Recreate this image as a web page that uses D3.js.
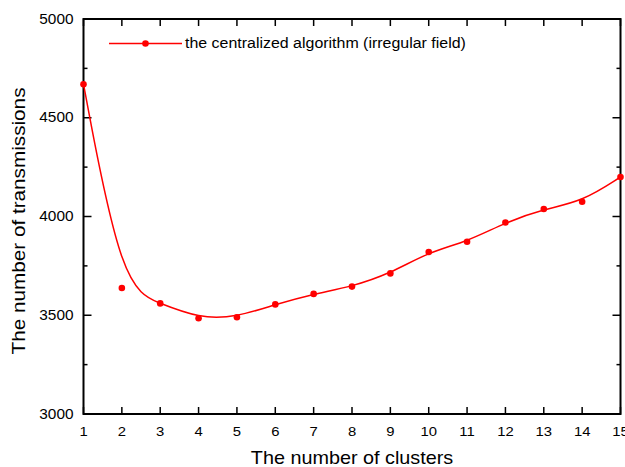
<!DOCTYPE html>
<html><head><meta charset="utf-8">
<script src="https://cdn.jsdelivr.net/npm/d3@7"></script>
<style>body{margin:0;background:#fff}svg{display:block}text{font-family:"Liberation Sans",Arial,sans-serif}</style>
</head><body>
<svg id="c" width="625" height="467"></svg>
<script>
const clusters = [1,2,3,4,5,6,7,8,9,10,11,12,13,14,15];
const transmissions = [4670,3638,3560,3485,3490,3555,3608,3645,3712,3820,3872,3970,4038,4075,4200];
const yTicks = [3000,3500,4000,4500,5000];
const yMinorTicks = [3250,3750,4250,4750];
const seriesName = "the centralized algorithm (irregular field)";

const svg = d3.select("#c");
const L=83.5, R=620.5, T=19, B=414;
const x = d3.scaleLinear().domain([1,15]).range([L,R]);
const y = d3.scaleLinear().domain([3000,5000]).range([B,T]);

// ticks (inward, all four sides)
const g = svg.append("g").attr("stroke","#000").attr("stroke-width",1.5);
clusters.forEach(c=>{
  g.append("line").attr("x1",x(c)).attr("x2",x(c)).attr("y1",B).attr("y2",B-7);
  g.append("line").attr("x1",x(c)).attr("x2",x(c)).attr("y1",T).attr("y2",T+7);
});
yTicks.forEach(v=>{
  g.append("line").attr("x1",L).attr("x2",L+8).attr("y1",y(v)).attr("y2",y(v));
  g.append("line").attr("x1",R).attr("x2",R-8).attr("y1",y(v)).attr("y2",y(v));
});
yMinorTicks.forEach(v=>{
  g.append("line").attr("x1",L).attr("x2",L+4).attr("y1",y(v)).attr("y2",y(v));
  g.append("line").attr("x1",R).attr("x2",R-4).attr("y1",y(v)).attr("y2",y(v));
});
svg.append("rect").attr("x",L).attr("y",T).attr("width",R-L).attr("height",B-T)
  .attr("fill","none").attr("stroke","#000").attr("stroke-width",2);

// tick labels
svg.append("g").selectAll("text").data(clusters).join("text")
  .attr("transform",d=>`translate(${x(d)},436) scale(1.1,1)`)
  .attr("text-anchor","middle").attr("font-size",13.5).text(d=>d);
svg.append("g").selectAll("text").data(yTicks).join("text")
  .attr("transform",d=>`translate(73.5,${y(d)+4.5}) scale(1.1,1)`)
  .attr("text-anchor","end").attr("font-size",14).text(d=>d);

// axis titles
svg.append("text").attr("transform","translate(352,464.3) scale(1.1,1)")
  .attr("text-anchor","middle").attr("font-size",18).text("The number of clusters");
svg.append("text").attr("transform","translate(24.5,221) rotate(-90) scale(1.12,1)")
  .attr("text-anchor","middle").attr("font-size",18.5).text("The number of transmissions");

// series
const data = clusters.map((c,i)=>({x:c,y:transmissions[i]}));
svg.append("path").datum(data)
  .attr("d",d3.line().x(d=>x(d.x)).y(d=>y(d.y)).curve(d3.curveBasis))
  .attr("fill","none").attr("stroke","#ff0000").attr("stroke-width",1.5);
svg.append("g").selectAll("circle").data(data).join("circle")
  .attr("cx",d=>x(d.x)).attr("cy",d=>y(d.y)).attr("r",3.3).attr("fill","#ff0000");

// legend
svg.append("line").attr("x1",109).attr("x2",182).attr("y1",43.5).attr("y2",43.5)
  .attr("stroke","#ff0000").attr("stroke-width",1.5);
svg.append("circle").attr("cx",145.5).attr("cy",43.5).attr("r",3.3).attr("fill","#ff0000");
svg.append("text").attr("transform","translate(185,48.3) scale(1.1,1)")
  .attr("font-size",14.5).text(seriesName);
</script>
</body></html>
